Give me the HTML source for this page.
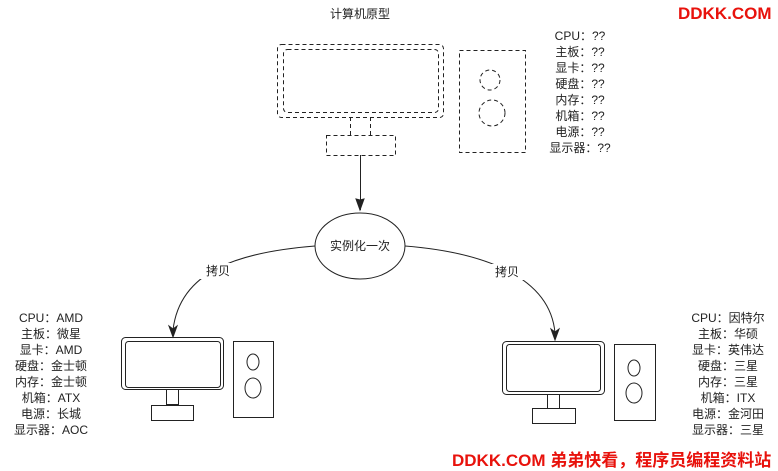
<!DOCTYPE html>
<html><head><meta charset="utf-8"><style>
body{margin:0;background:#fff;width:778px;height:467px;overflow:hidden;position:relative;font-family:"Liberation Sans","Noto Sans CJK SC",sans-serif}
.t{position:absolute;font-size:12px;color:#222;text-align:center;line-height:16px;white-space:nowrap}
.wm{position:absolute;color:#e8120c;font-weight:bold;font-family:"Liberation Sans","Noto Sans CJK SC",sans-serif;white-space:nowrap}
</style></head><body>
<svg width="778" height="467" style="position:absolute;left:0;top:0">
<defs><marker id="a" markerWidth="10" markerHeight="10" refX="5" refY="9" orient="auto" markerUnits="userSpaceOnUse"><path d="M0,0 L5,10 L10,0 L5,3 Z" fill="#222" transform="rotate(0)"/></marker></defs>
<g fill="none" stroke="#222" stroke-width="1">
<g stroke-dasharray="4,3">
<rect x="277.5" y="44.5" width="166" height="73" rx="4"/>
<rect x="283.5" y="49.5" width="155" height="63" rx="4"/>
<path d="M350.5,117 V135 M370.5,117 V135"/>
<rect x="326.5" y="135.5" width="69" height="20"/>
<rect x="459.5" y="50.5" width="66" height="102"/>
<circle cx="490" cy="80" r="10"/>
<circle cx="492" cy="113" r="13"/>
</g>
<path d="M360.5,155 V210"/>
<path d="M360,200 l-4,-1 l4,11 l4,-11 z" fill="#222"/>
<ellipse cx="360" cy="246" rx="45" ry="33"/>
<path d="M315,246 C240,252 180,270 173,330"/>
<path d="M173,337 l-4,-11 l4,3 l4,-3 z" fill="#222"/>
<path d="M405,246 C480,252 550,275 555,333"/>
<path d="M555,340 l-4,-11 l4,3 l4,-3 z" fill="#222"/>
<rect x="121.5" y="337.5" width="102" height="52" rx="4"/>
<rect x="125.5" y="341.5" width="95" height="46" rx="3"/>
<rect x="166.5" y="389.5" width="12" height="15"/>
<rect x="151.5" y="405.5" width="42" height="15"/>
<rect x="233.5" y="341.5" width="40" height="76"/>
<ellipse cx="253" cy="362" rx="6" ry="8"/>
<ellipse cx="253" cy="388" rx="8" ry="10"/>
<rect x="502.5" y="341.5" width="102" height="53" rx="4"/>
<rect x="506.5" y="344.5" width="94" height="47" rx="3"/>
<rect x="547.5" y="394.5" width="12" height="14"/>
<rect x="532.5" y="408.5" width="43" height="15"/>
<rect x="614.5" y="344.5" width="41" height="76"/>
<ellipse cx="634" cy="368" rx="6" ry="8"/>
<ellipse cx="634" cy="393" rx="8" ry="10"/>
</g></svg>
<div class="t" style="left:300px;top:6px;width:120px">计算机原型</div>
<div class="t" style="left:540px;top:28px;width:80px">CPU：??<br>主板：??<br>显卡：??<br>硬盘：??<br>内存：??<br>机箱：??<br>电源：??<br>显示器：??</div>
<div class="t" style="left:310px;top:238px;width:100px">实例化一次</div>
<div class="t" style="left:198px;top:263px;width:40px;background:#fff">拷贝</div>
<div class="t" style="left:487px;top:264px;width:40px;background:#fff">拷贝</div>
<div class="t" style="left:1px;top:310px;width:100px">CPU：AMD<br>主板：微星<br>显卡：AMD<br>硬盘：金士顿<br>内存：金士顿<br>机箱：ATX<br>电源：长城<br>显示器：AOC</div>
<div class="t" style="left:678px;top:310px;width:100px">CPU：因特尔<br>主板：华硕<br>显卡：英伟达<br>硬盘：三星<br>内存：三星<br>机箱：ITX<br>电源：金河田<br>显示器：三星</div>
<div class="wm" style="left:678px;top:4px;font-size:17px">DDKK.COM</div>
<div class="wm" style="left:452px;top:446px;font-size:17px">DDKK.COM 弟弟快看，程序员编程资料站</div>
</body></html>
